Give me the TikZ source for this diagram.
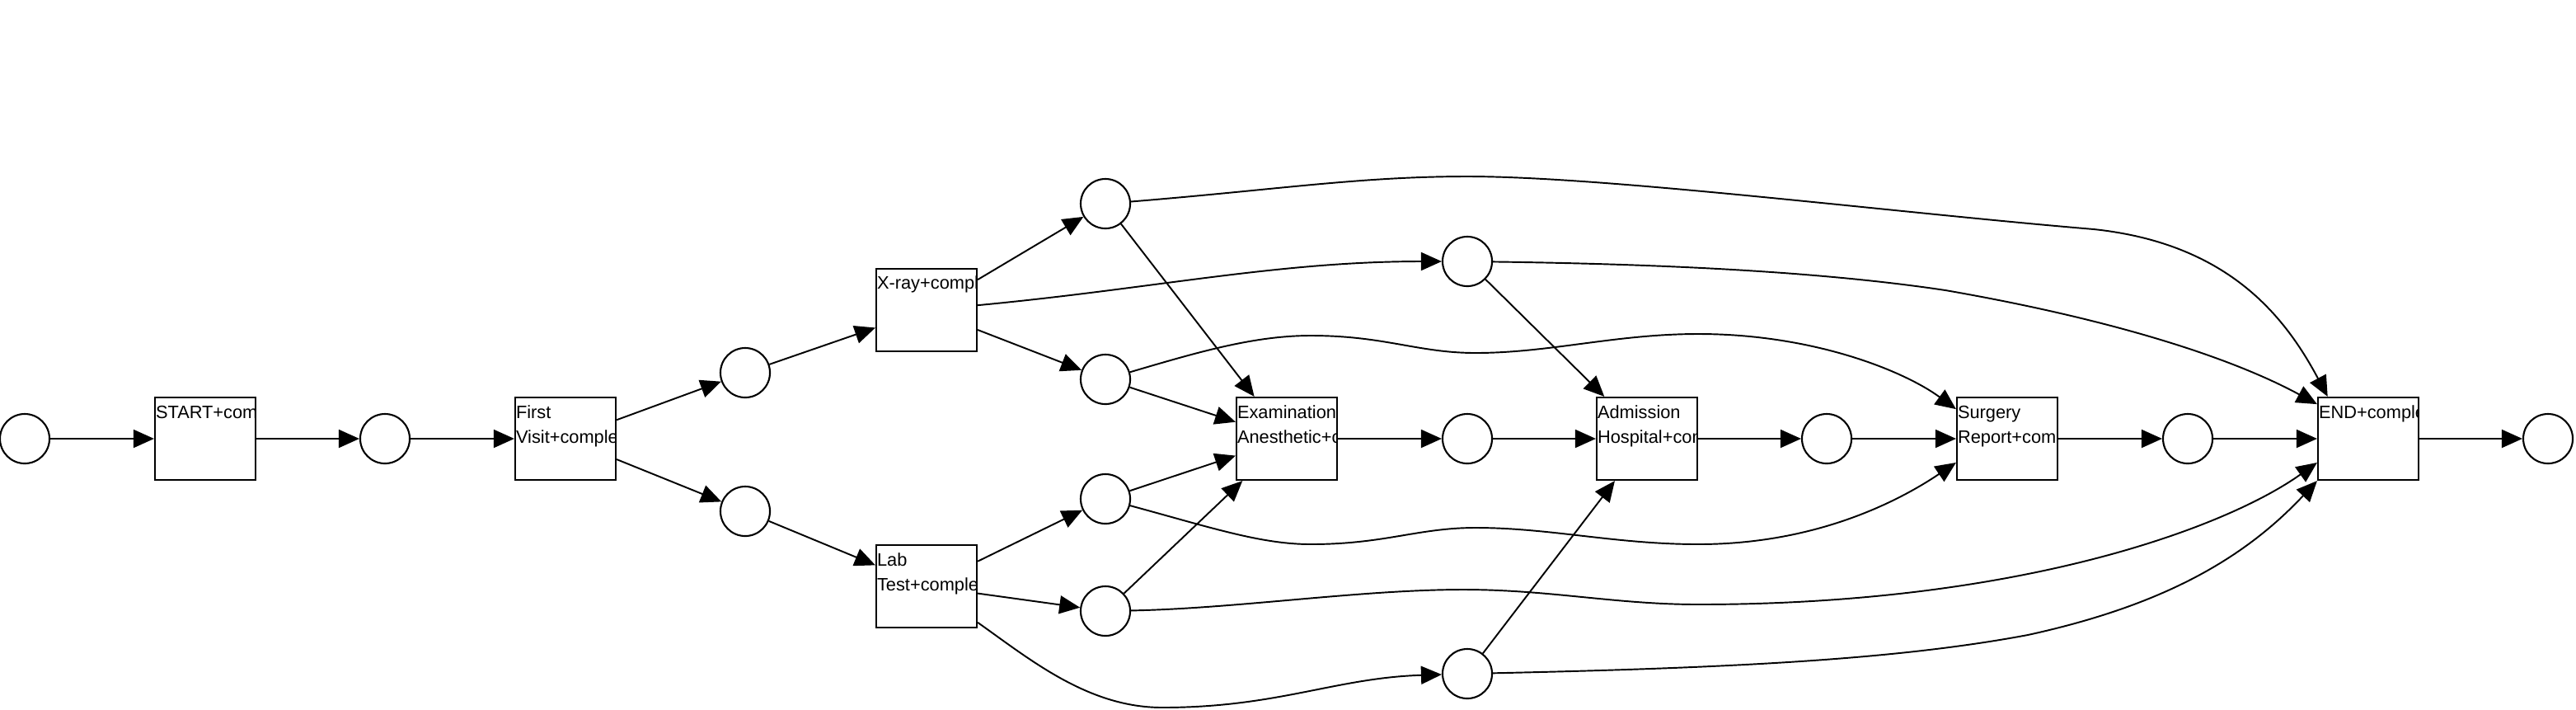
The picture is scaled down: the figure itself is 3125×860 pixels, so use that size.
\documentclass[tikz,border=0pt]{standalone}
\usepackage{fontspec}
\setmainfont{Liberation Sans}
\usetikzlibrary{arrows.meta}
\tikzset{
  place/.style={circle,draw,line width=0.6pt,minimum size=0.6cm,inner sep=0pt},
  lbl/.style={rectangle,draw=none,minimum size=0pt,anchor=base west,inner sep=0pt,font=\fontsize{6.2}{8.5}\selectfont},
  trans/.style 2 args={rectangle,draw,line width=0.6pt,minimum width=1.22cm,minimum height=1cm,inner sep=0pt,
    path picture={\node[lbl] at ([yshift=-0.25cm]path picture bounding box.north west) {#1};
      \node[lbl] at ([yshift=-0.55cm]path picture bounding box.north west) {#2};}},
  flow/.style={line width=0.55pt,-{Triangle[length=0.25cm,width=0.22cm]}}
}
\begin{document}
\begin{tikzpicture}[x=0.01cm,y=-0.01cm]
\useasboundingbox (0,0) rectangle (3125,860);
\node[place] (p0) at (30,532) {};
\node[trans={START+complete}{}] (tStart) at (249,532) {};
\node[place] (p1) at (467,532) {};
\node[trans={First}{Visit+complete}] (tVisit) at (686,532) {};
\node[place] (p2) at (904,452) {};
\node[place] (p3) at (904,620) {};
\node[trans={X-ray+complete}{}] (tXray) at (1124,376) {};
\node[trans={Lab}{Test+complete}] (tLab) at (1124,711) {};
\node[place] (p4) at (1341,247) {};
\node[place] (p5) at (1341,460) {};
\node[place] (p6) at (1341,605) {};
\node[place] (p7) at (1341,741) {};
\node[trans={Examination}{Anesthetic+complete}] (tExam) at (1561,532) {};
\node[place] (p8) at (1780,317) {};
\node[place] (p9) at (1780,532) {};
\node[place] (p10) at (1780,817) {};
\node[trans={Admission}{Hospital+complete}] (tAdm) at (1998,532) {};
\node[place] (p11) at (2216,532) {};
\node[trans={Surgery}{Report+complete}] (tSurg) at (2435,532) {};
\node[place] (p12) at (2654,532) {};
\node[trans={END+complete}{}] (tEnd) at (2873,532) {};
\node[place] (p13) at (3091,532) {};
\foreach \a/\b in {p0/tStart,tStart/p1,p1/tVisit,tVisit/p2,tVisit/p3,p2/tXray,p3/tLab,
  tXray/p4,tXray/p5,tLab/p6,tLab/p7,p4/tExam,p5/tExam,p6/tExam,p7/tExam,tExam/p9,p9/tAdm,
  p8/tAdm,p10/tAdm,tAdm/p11,p11/tSurg,tSurg/p12,p12/tEnd,tEnd/p13}
  \draw[flow] (\a)--(\b);
\draw[flow] (tXray) .. controls (1400,350) and (1550,317) .. (p8);
\draw[flow] (tLab) .. controls (1250,800) and (1320,858) .. (1410,858)
  .. controls (1550,858) and (1620,822) .. (p10);
\draw[flow] (p4) .. controls (1550,230) and (1650,214) .. (1780,214)
  .. controls (1950,214) and (2300,258) .. (2540,278)
  .. controls (2700,295) and (2770,380) .. (tEnd.134);
\draw[flow] (p8) .. controls (2000,320) and (2200,328) .. (2360,352)
  .. controls (2550,385) and (2700,430) .. (tEnd.146);
\draw[flow] (p5) .. controls (1450,428) and (1520,407) .. (1590,407)
  .. controls (1680,407) and (1720,428) .. (1790,428)
  .. controls (1880,428) and (1960,405) .. (2060,405)
  .. controls (2200,405) and (2310,450) .. (tSurg.150);
\draw[flow] (p6) .. controls (1470,640) and (1530,660) .. (1590,660)
  .. controls (1680,660) and (1720,640) .. (1790,640)
  .. controls (1880,640) and (1960,660) .. (2060,660)
  .. controls (2200,660) and (2300,610) .. (tSurg.205);
\draw[flow] (p7) .. controls (1500,738) and (1650,715) .. (1775,715)
  .. controls (1880,715) and (1960,733) .. (2060,733)
  .. controls (2450,733) and (2700,640) .. (tEnd.205);
\draw[flow] (p10) .. controls (2100,810) and (2300,800) .. (2460,770)
  .. controls (2620,735) and (2720,680) .. (tEnd.south west);
\end{tikzpicture}
\end{document}
